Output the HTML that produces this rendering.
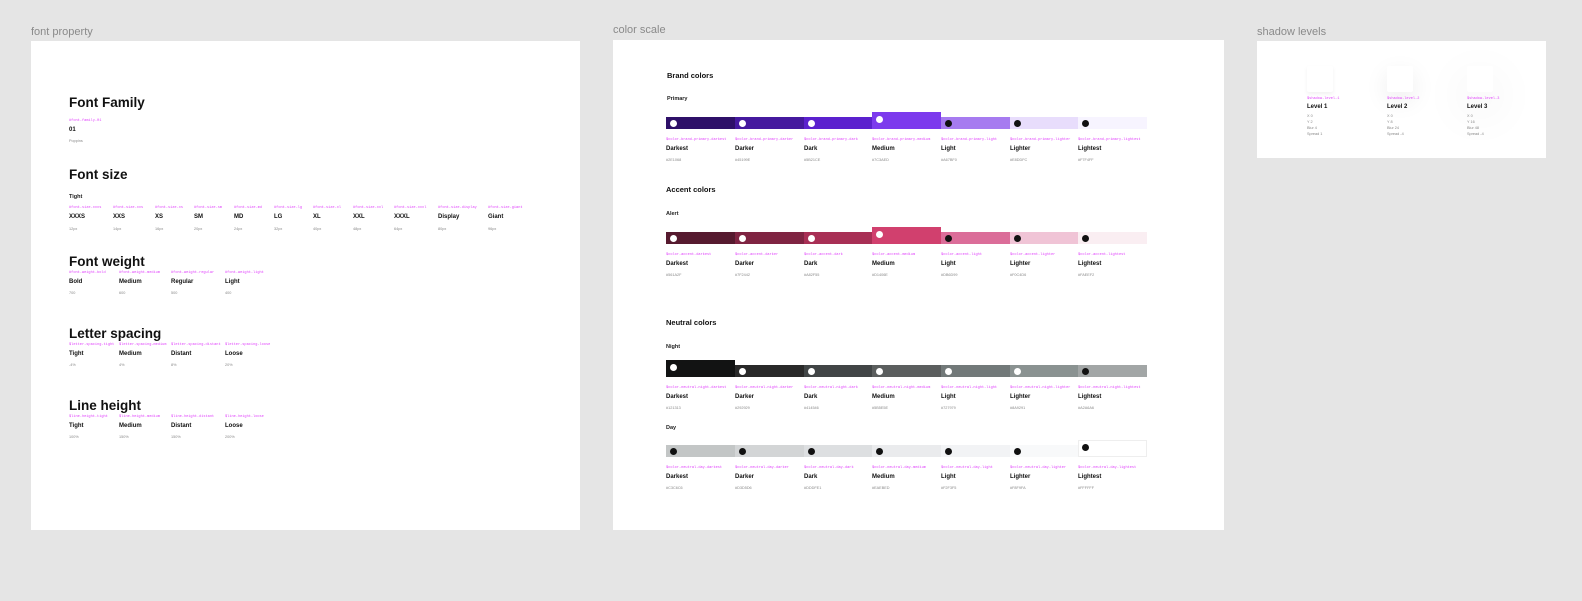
<!DOCTYPE html>
<html><head><meta charset="utf-8"><style>
body{margin:0;width:1582px;height:601px;background:#e5e5e5;position:relative;overflow:hidden;font-family:"Liberation Sans",sans-serif;}
.a{position:absolute;white-space:nowrap;}
.fl{font-size:11px;color:#8a8a8a;}
.panel{position:absolute;background:#fff;}
.h1{font-size:13.5px;font-weight:bold;color:#111;}
.h2{font-size:7.5px;font-weight:bold;color:#111;}
.h3{font-size:5.5px;font-weight:bold;color:#222;}
.tok{font-size:3.6px;color:#e040fb;font-family:"Liberation Mono",monospace;}
.nm{font-size:6px;font-weight:bold;color:#111;}
.val{font-size:3.8px;color:#888;}
.sw{position:absolute;}
.dot{position:absolute;width:7px;height:7px;border-radius:50%;}
</style></head><body>
<div class="a fl" style="left:31px;top:26px">font property</div>
<div class="a fl" style="left:613px;top:24px">color scale</div>
<div class="a fl" style="left:1257px;top:26px">shadow levels</div>
<div class="panel" style="left:31px;top:41px;width:549px;height:489px"></div>
<div class="panel" style="left:613px;top:40px;width:611px;height:490px"></div>
<div class="panel" style="left:1257px;top:41px;width:289px;height:117px"></div>
<div id="root"></div>
<script>
const root=document.getElementById('root');
function t(cls,x,y,txt,name){const d=document.createElement('div');d.className='a '+cls;d.style.left=x+'px';d.style.top=y+'px';d.textContent=txt;


root.appendChild(d);return d;}
// Font property
t('h1',69,95,'Font Family','font-family-heading');
t('tok',69,119,'#font-family-01','font-family-token');
t('nm',69,127,'01','font-family-name');
t('val',69,139,'Poppins','font-family-value');
t('h1',69,167,'Font size','font-size-heading');
t('h3',69,194,'Tight','font-size-tight-label');
const fsX=[69,113,155,194,234,274,313,353,394,438,488];
const fsN=['XXXS','XXS','XS','SM','MD','LG','XL','XXL','XXXL','Display','Giant'];
const fsT=['xxxs','xxs','xs','sm','md','lg','xl','xxl','xxxl','display','giant'];
const fsV=['12px','14px','16px','20px','24px','32px','40px','48px','64px','80px','96px'];
fsN.forEach((n,i)=>{t('tok',fsX[i],206,'#font-size-'+fsT[i],'font-size-token');t('nm',fsX[i],214,n,'font-size-name');t('val',fsX[i],227,fsV[i],'font-size-value');});
function grp(head,y,toks,names,vals,key){t('h1',69,y,head,key+'-heading');const xs=[69,119,171,225];
names.forEach((n,i)=>{t('tok',xs[i],y+17,toks[i],key+'-token');t('nm',xs[i],y+25,n,key+'-name');t('val',xs[i],y+37,vals[i],key+'-value');});}
grp('Font weight',254,['#font-weight-bold','#font-weight-medium','#font-weight-regular','#font-weight-light'],['Bold','Medium','Regular','Light'],['700','600','500','400'],'font-weight');
grp('Letter spacing',326,['$letter-spacing-tight','$letter-spacing-medium','$letter-spacing-distant','$letter-spacing-loose'],['Tight','Medium','Distant','Loose'],['-4%','4%','8%','20%'],'letter-spacing');
grp('Line height',398,['$line-height-tight','$line-height-medium','$line-height-distant','$line-height-loose'],['Tight','Medium','Distant','Loose'],['100%','150%','150%','200%'],'line-height');
// Color scale
const cX=[666,735,804,872,941,1010,1078];
const cN=['Darkest','Darker','Dark','Medium','Light','Lighter','Lightest'];
const cT=['darkest','darker','dark','medium','light','lighter','lightest'];
function scale(y,colors,dotDark,big,prefix,key,border){
 colors.forEach((c,i)=>{const s=document.createElement('div');s.className='sw';const tall=i===big;
 s.style.left=cX[i]+'px';s.style.top=(tall?y-5:y)+'px';s.style.width='69px';s.style.height=(tall?17:12)+'px';s.style.background=c;
 if(border&&i===6){s.style.boxSizing='border-box';s.style.border='1px solid #eee';}
 
 
 root.appendChild(s);
 const d=document.createElement('div');d.className='dot';d.style.left=(cX[i]+4)+'px';d.style.top=((tall?y-5:y)+(tall?4:3))+'px';d.style.background=dotDark[i]?'#111':'#fff';
 
 
 root.appendChild(d);
 t('tok',cX[i],y+21,prefix+cT[i],key+'-token');t('nm',cX[i],y+29,cN[i],key+'-name');t('val',cX[i],y+41,colors[i].toUpperCase(),key+'-hex');});}
t('h2',667,71,'Brand colors','brand-colors-heading');
t('h3',667,96,'Primary','primary-label');
scale(117,['#2e1068','#45199e','#5b21ce','#7c3aed','#a67bf0','#e8ddfc','#f7f4ff'],[0,0,0,0,1,1,1],3,'$color-brand-primary-','primary');
t('h2',666,185,'Accent colors','accent-colors-heading');
t('h3',666,211,'Alert','alert-label');
scale(232,['#561a2f','#7f2442','#a82f55','#d1406e','#db6d99','#f0c4d6','#faeef2'],[0,0,0,0,1,1,1],3,'$color-accent-','alert');
t('h2',666,318,'Neutral colors','neutral-colors-heading');
t('h3',666,344,'Night','night-label');
scale(365,['#121313','#292929','#414546','#5b5e5e','#727979','#8a9291','#a2a6a6'],[0,0,0,0,0,0,1],0,'$color-neutral-night-','night');
t('h3',666,425,'Day','day-label');
scale(445,['#c3c6c6','#d3d5d6','#dddfe1','#eaebed','#f2f3f5','#f8f9fa','#ffffff'],[1,1,1,1,1,1,1],6,'$color-neutral-day-','day',true);
// Shadows
const shX=[1307,1387,1467];
const shS=['0 2px 4px rgba(0,0,0,0.06)','0 8px 24px rgba(0,0,0,0.08)','0 16px 48px rgba(0,0,0,0.1)'];
const shY=['2','8','16'],shB=['4','24','48'],shP=['1','-4','-4'];
shX.forEach((x,i)=>{const b=document.createElement('div');b.className='sw';b.style.left=x+'px';b.style.top='66px';b.style.width='26px';b.style.height='26px';b.style.background='#fff';b.style.borderRadius='2px';b.style.boxShadow=shS[i];


root.appendChild(b);
t('tok',x,97,'$shadow-level-'+(i+1),'shadow-token');t('nm',x,104,'Level '+(i+1),'shadow-level-name');
t('val',x,114,'X 0','shadow-x');t('val',x,120,'Y '+shY[i],'shadow-y');t('val',x,126,'Blur '+shB[i],'shadow-blur');t('val',x,132,'Spread '+shP[i],'shadow-spread');});
</script>
</body></html>
